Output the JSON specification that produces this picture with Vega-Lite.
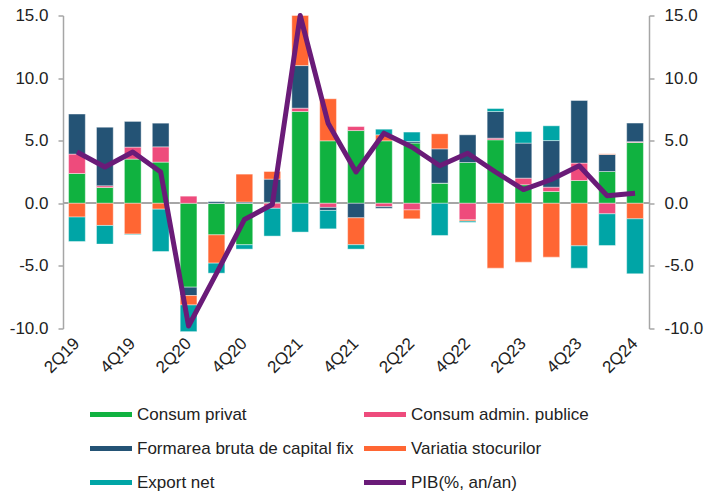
{
  "$schema": "https://vega.github.io/schema/vega-lite/v6.json",
  "width": 586,
  "height": 313,
  "autosize": {"type": "none"},
  "padding": {"left": 63, "top": 15.5, "right": 55, "bottom": 166.5},
  "background": "white",
  "config": {
    "view": {"stroke": null},
    "font": "Liberation Sans",
    "axis": {"labelFont": "Liberation Sans", "labelColor": "#222222", "labelFontSize": 17, "grid": false, "title": null}
  },
  "datasets": {
    "bars": [
      {"q":"2Q19","c":"Consum privat","v":2.38},{"q":"2Q19","c":"Consum admin. publice","v":1.55},{"q":"2Q19","c":"Formarea bruta de capital fix","v":3.2},{"q":"2Q19","c":"Variatia stocurilor","v":-1.1},{"q":"2Q19","c":"Export net","v":-1.95},
      {"q":"3Q19","c":"Consum privat","v":1.26},{"q":"3Q19","c":"Consum admin. publice","v":0.14},{"q":"3Q19","c":"Formarea bruta de capital fix","v":4.68},{"q":"3Q19","c":"Variatia stocurilor","v":-1.77},{"q":"3Q19","c":"Export net","v":-1.49},
      {"q":"4Q19","c":"Consum privat","v":3.53},{"q":"4Q19","c":"Consum admin. publice","v":0.96},{"q":"4Q19","c":"Formarea bruta de capital fix","v":2.05},{"q":"4Q19","c":"Variatia stocurilor","v":-2.46},{"q":"4Q19","c":"Export net","v":-0.05},
      {"q":"1Q20","c":"Consum privat","v":3.29},{"q":"1Q20","c":"Consum admin. publice","v":1.22},{"q":"1Q20","c":"Formarea bruta de capital fix","v":1.89},{"q":"1Q20","c":"Variatia stocurilor","v":-0.47},{"q":"1Q20","c":"Export net","v":-3.38},
      {"q":"2Q20","c":"Consum privat","v":-6.7},{"q":"2Q20","c":"Consum admin. publice","v":0.57},{"q":"2Q20","c":"Formarea bruta de capital fix","v":-0.67},{"q":"2Q20","c":"Variatia stocurilor","v":-0.75},{"q":"2Q20","c":"Export net","v":-2.13},
      {"q":"3Q20","c":"Consum privat","v":-2.52},{"q":"3Q20","c":"Consum admin. publice","v":0},{"q":"3Q20","c":"Formarea bruta de capital fix","v":0.13},{"q":"3Q20","c":"Variatia stocurilor","v":-2.26},{"q":"3Q20","c":"Export net","v":-0.8},
      {"q":"4Q20","c":"Consum privat","v":-3.31},{"q":"4Q20","c":"Consum admin. publice","v":0},{"q":"4Q20","c":"Formarea bruta de capital fix","v":0.1},{"q":"4Q20","c":"Variatia stocurilor","v":2.23},{"q":"4Q20","c":"Export net","v":-0.35},
      {"q":"1Q21","c":"Consum privat","v":0.08},{"q":"1Q21","c":"Consum admin. publice","v":-0.4},{"q":"1Q21","c":"Formarea bruta de capital fix","v":1.85},{"q":"1Q21","c":"Variatia stocurilor","v":0.61},{"q":"1Q21","c":"Export net","v":-2.22},
      {"q":"2Q21","c":"Consum privat","v":7.33},{"q":"2Q21","c":"Consum admin. publice","v":0.27},{"q":"2Q21","c":"Formarea bruta de capital fix","v":3.4},{"q":"2Q21","c":"Variatia stocurilor","v":4.0},{"q":"2Q21","c":"Export net","v":-2.3},
      {"q":"3Q21","c":"Consum privat","v":4.99},{"q":"3Q21","c":"Consum admin. publice","v":-0.33},{"q":"3Q21","c":"Formarea bruta de capital fix","v":-0.24},{"q":"3Q21","c":"Variatia stocurilor","v":3.36},{"q":"3Q21","c":"Export net","v":-1.47},
      {"q":"4Q21","c":"Consum privat","v":5.81},{"q":"4Q21","c":"Consum admin. publice","v":0.32},{"q":"4Q21","c":"Formarea bruta de capital fix","v":-1.16},{"q":"4Q21","c":"Variatia stocurilor","v":-2.15},{"q":"4Q21","c":"Export net","v":-0.35},
      {"q":"1Q22","c":"Consum privat","v":4.99},{"q":"1Q22","c":"Consum admin. publice","v":-0.27},{"q":"1Q22","c":"Formarea bruta de capital fix","v":-0.13},{"q":"1Q22","c":"Variatia stocurilor","v":0.48},{"q":"1Q22","c":"Export net","v":0.45},
      {"q":"2Q22","c":"Consum privat","v":4.81},{"q":"2Q22","c":"Consum admin. publice","v":-0.53},{"q":"2Q22","c":"Formarea bruta de capital fix","v":0.13},{"q":"2Q22","c":"Variatia stocurilor","v":-0.71},{"q":"2Q22","c":"Export net","v":0.75},
      {"q":"3Q22","c":"Consum privat","v":1.61},{"q":"3Q22","c":"Consum admin. publice","v":0},{"q":"3Q22","c":"Formarea bruta de capital fix","v":2.74},{"q":"3Q22","c":"Variatia stocurilor","v":1.2},{"q":"3Q22","c":"Export net","v":-2.57},
      {"q":"4Q22","c":"Consum privat","v":3.26},{"q":"4Q22","c":"Consum admin. publice","v":-1.32},{"q":"4Q22","c":"Formarea bruta de capital fix","v":2.21},{"q":"4Q22","c":"Variatia stocurilor","v":-0.1},{"q":"4Q22","c":"Export net","v":-0.1},
      {"q":"1Q23","c":"Consum privat","v":5.07},{"q":"1Q23","c":"Consum admin. publice","v":0.13},{"q":"1Q23","c":"Formarea bruta de capital fix","v":2.13},{"q":"1Q23","c":"Variatia stocurilor","v":-5.18},{"q":"1Q23","c":"Export net","v":0.24},
      {"q":"2Q23","c":"Consum privat","v":1.48},{"q":"2Q23","c":"Consum admin. publice","v":0.53},{"q":"2Q23","c":"Formarea bruta de capital fix","v":2.8},{"q":"2Q23","c":"Variatia stocurilor","v":-4.7},{"q":"2Q23","c":"Export net","v":0.92},
      {"q":"3Q23","c":"Consum privat","v":0.94},{"q":"3Q23","c":"Consum admin. publice","v":0.35},{"q":"3Q23","c":"Formarea bruta de capital fix","v":3.72},{"q":"3Q23","c":"Variatia stocurilor","v":-4.3},{"q":"3Q23","c":"Export net","v":1.18},
      {"q":"4Q23","c":"Consum privat","v":1.82},{"q":"4Q23","c":"Consum admin. publice","v":1.39},{"q":"4Q23","c":"Formarea bruta de capital fix","v":5.0},{"q":"4Q23","c":"Variatia stocurilor","v":-3.4},{"q":"4Q23","c":"Export net","v":-1.78},
      {"q":"1Q24","c":"Consum privat","v":2.54},{"q":"1Q24","c":"Consum admin. publice","v":-0.84},{"q":"1Q24","c":"Formarea bruta de capital fix","v":1.36},{"q":"1Q24","c":"Variatia stocurilor","v":0.05},{"q":"1Q24","c":"Export net","v":-2.53},
      {"q":"2Q24","c":"Consum privat","v":4.86},{"q":"2Q24","c":"Consum admin. publice","v":0.06},{"q":"2Q24","c":"Formarea bruta de capital fix","v":1.49},{"q":"2Q24","c":"Variatia stocurilor","v":-1.24},{"q":"2Q24","c":"Export net","v":-4.39}
    ],
    "pib": [
      {"q":"2Q19","v":4.1},{"q":"3Q19","v":2.9},{"q":"4Q19","v":4.1},{"q":"1Q20","v":2.5},{"q":"2Q20","v":-9.8},{"q":"3Q20","v":-5.6},{"q":"4Q20","v":-1.3},
      {"q":"1Q21","v":-0.1},{"q":"2Q21","v":15.0},{"q":"3Q21","v":6.4},{"q":"4Q21","v":2.5},{"q":"1Q22","v":5.6},{"q":"2Q22","v":4.5},{"q":"3Q22","v":3.0},
      {"q":"4Q22","v":4.0},{"q":"1Q23","v":2.5},{"q":"2Q23","v":1.1},{"q":"3Q23","v":1.9},{"q":"4Q23","v":3.0},{"q":"1Q24","v":0.6},{"q":"2Q24","v":0.8}
    ]
  },
  "layer": [
    {
      "layer": [
        {
          "data": {"name": "pib"},
          "mark": {"type": "rule", "color": "#a6a6a6", "strokeWidth": 1.5},
          "encoding": {
            "y": {"datum": 0, "type": "quantitative", "scale": {"domain": [-10, 15]},
              "axis": {"values": [-10, -5, 0, 5, 10, 15], "labelExpr": "(datum.value < 0 ? '-' : '') + format(abs(datum.value), '.1f')", "domainColor": "#a6a6a6", "domainWidth": 1.5, "tickColor": "#a6a6a6", "tickWidth": 1.5, "tickSize": 5, "labelPadding": 10}}
          }
        },
        {
          "data": {"name": "bars"},
          "transform": [
            {"calculate": "indexof(['Consum privat','Consum admin. publice','Formarea bruta de capital fix','Variatia stocurilor','Export net'], datum.c)", "as": "k"}
          ],
          "mark": {"type": "bar", "stroke": "#ffffff", "strokeWidth": 0.6, "strokeOpacity": 0.7},
          "encoding": {
            "x": {"field": "q", "type": "ordinal",
              "scale": {"domain": ["2Q19","3Q19","4Q19","1Q20","2Q20","3Q20","4Q20","1Q21","2Q21","3Q21","4Q21","1Q22","2Q22","3Q22","4Q22","1Q23","2Q23","3Q23","4Q23","1Q24","2Q24"], "paddingInner": 0.4, "paddingOuter": 0.2},
              "axis": {"values": ["2Q19","4Q19","2Q20","4Q20","2Q21","4Q21","2Q22","4Q22","2Q23","4Q23","2Q24"], "domain": false, "ticks": false, "labelAngle": -45, "labelAlign": "right", "labelBaseline": "middle", "labelPadding": 12}},
            "y": {"field": "v", "type": "quantitative", "stack": "zero", "scale": {"domain": [-10, 15]},
              "axis": {"values": [-10, -5, 0, 5, 10, 15], "labelExpr": "(datum.value < 0 ? '-' : '') + format(abs(datum.value), '.1f')", "domainColor": "#a6a6a6", "domainWidth": 1.5, "tickColor": "#a6a6a6", "tickWidth": 1.5, "tickSize": 5, "labelPadding": 10}},
            "order": {"field": "k", "type": "quantitative", "sort": "ascending"},
            "color": {"field": "c", "type": "nominal",
              "scale": {"domain": ["Consum privat","Consum admin. publice","Formarea bruta de capital fix","Variatia stocurilor","Export net","PIB(%, an/an)"],
                        "range": ["#10b240","#ee4b7c","#245375","#ff6633","#00a5a6","#6a1b78"]},
              "legend": {
                "title": null, "orient": "none", "legendX": 27, "legendY": 378, "columns": 2, "direction": "horizontal", "columnPadding": 10, "rowPadding": 5,
                "symbolType": "M-1,-0.12H1V0.12H-1Z", "symbolSize": 1764, "symbolStrokeWidth": 0,
                "labelFont": "Liberation Sans", "labelFontSize": 17, "labelColor": "#222222", "labelOffset": 5, "labelLimit": 400,
                "encode": {"symbols": {"update": {
                  "shape": {"signal": "datum.value === 'PIB(%, an/an)' ? 'stroke' : 'M-1,-0.12H1V0.12H-1Z'"},
                  "size": {"signal": "datum.value === 'PIB(%, an/an)' ? 1444 : 1764"},
                  "fill": {"scale": "color", "field": "value"},
                  "stroke": {"scale": "color", "field": "value"},
                  "strokeWidth": {"signal": "datum.value === 'PIB(%, an/an)' ? 5 : 0"},
                  "strokeCap": {"value": "round"},
                  "opacity": {"value": 1}
                }}}
              }}
          }
        }
      ]
    },
    {
      "data": {"name": "pib"},
      "mark": {"type": "line", "strokeWidth": 5, "strokeJoin": "round", "strokeCap": "butt"},
      "encoding": {
        "x": {"field": "q", "type": "ordinal"},
        "y": {"field": "v", "type": "quantitative", "scale": {"domain": [-10, 15]},
          "axis": {"orient": "right", "values": [-10, -5, 0, 5, 10, 15], "labelExpr": "(datum.value < 0 ? '-' : '') + format(abs(datum.value), '.1f')", "domainColor": "#a6a6a6", "domainWidth": 1.5, "tickColor": "#a6a6a6", "tickWidth": 1.5, "tickSize": 5, "labelPadding": 10}},
        "color": {"datum": "PIB(%, an/an)", "type": "nominal"}
      }
    }
  ],
  "resolve": {"scale": {"y": "independent"}}
}
